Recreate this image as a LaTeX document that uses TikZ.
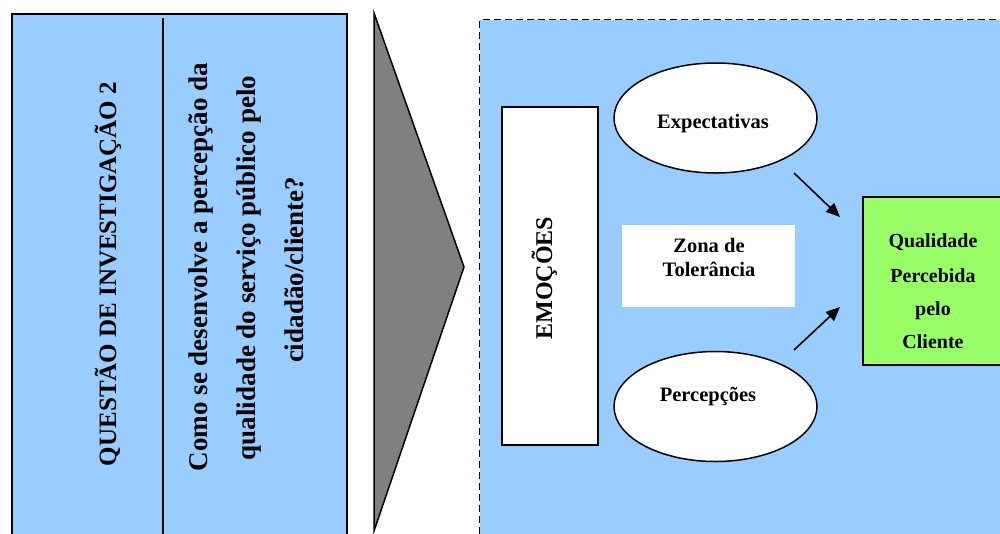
\documentclass[tikz,border=0pt]{standalone}
\usepackage{fontspec}
\setmainfont{Liberation Serif}
\usetikzlibrary{shapes.geometric,arrows.meta}
\definecolor{skyfill}{HTML}{99CCFF}
\definecolor{limefill}{HTML}{99FF66}
\definecolor{chevgray}{HTML}{808080}
\begin{document}
\begin{tikzpicture}[x=1pt,y=-1pt,
  outline/.style={draw=black,line width=1.5pt},
  panel/.style={outline,inner sep=0pt,anchor=north west},
  oval/.style={ellipse,outline,fill=white,inner sep=0pt,minimum width=203pt,minimum height=110pt},
  bigtxt/.style={font=\bfseries\fontsize{27}{32}\selectfont,inner sep=0pt,anchor=base},
  titletxt/.style={font=\bfseries\fontsize{25}{30}\selectfont,inner sep=0pt,anchor=base},
  midtxt/.style={font=\bfseries\fontsize{20.5}{24}\selectfont,inner sep=0pt,anchor=base},
  qualtxt/.style={font=\bfseries\fontsize{20}{24}\selectfont,inner sep=0pt,anchor=base},
  flow/.style={line width=1.6pt,-{Triangle[length=14pt,width=12pt]}}]

\clip (0,0) rectangle (1000,533);
\fill[white] (0,0) rectangle (1000,533);

% research question panel
\node[panel,fill=skyfill,minimum width=335pt,minimum height=540pt] (qbox) at (11,13) {};
\draw[line width=1.5pt] (163,18) -- (163,560);
\node[titletxt,rotate=90] (qtitle) at (116,274) {QUESTÃO DE INVESTIGAÇÃO 2};
\node[bigtxt,rotate=90] (qline1) at (207,267) {Como se desenvolve a percepção da};
\node[bigtxt,rotate=90] (qline2) at (255,268) {qualidade do serviço público pelo};
\node[bigtxt,rotate=90] (qline3) at (303,270) {cidadão/cliente?};

% grey chevron
\coordinate (chtop) at (374,13);
\coordinate (chtip) at (464,267);
\coordinate (chbot) at (374,531);
\draw[outline,fill=chevgray,line join=miter] (chtop) -- (chtip) -- (chbot) -- cycle;

% dashed model area
\node[panel,fill=skyfill,line width=1.3pt,dash pattern=on 7pt off 4pt,minimum width=560pt,minimum height=540pt] (model) at (479,19) {};

% emotions bar
\node[outline,fill=white,inner sep=0pt,minimum width=96pt,minimum height=338pt] (emo) at (550,276) {};
\node[font=\bfseries\fontsize{24}{28}\selectfont,inner sep=0pt,anchor=base,rotate=90] (emotxt) at (552,278) {EMOÇÕES};

% expectations and perceptions
\node[oval] (expect) at (715.5,118) {};
\node[midtxt] (expecttxt) at (713,128) {Expectativas};
\node[oval] (percep) at (715.5,406.5) {};
\node[midtxt] (perceptxt) at (708,401) {Percepções};

% tolerance zone
\node[fill=white,inner sep=0pt,minimum width=173pt,minimum height=82pt] (zona) at (708.5,266) {};
\node[midtxt] (zona1) at (709,252) {Zona de};
\node[midtxt] (zona2) at (709,276) {Tolerância};

% perceived quality
\node[panel,fill=limefill,minimum width=141pt,minimum height=168pt] (qual) at (862,196) {};
\node[qualtxt] (qual1) at (933,247) {Qualidade};
\node[qualtxt] (qual2) at (933,282) {Percebida};
\node[qualtxt] (qual3) at (933,315) {pelo};
\node[qualtxt] (qual4) at (933,348) {Cliente};

% arrows into perceived quality
\coordinate (expout) at (794,173);
\coordinate (expin) at (840,217);
\coordinate (perout) at (794,350);
\coordinate (perin) at (840,307);
\draw[flow] (expout) -- (expin);
\draw[flow] (perout) -- (perin);
\end{tikzpicture}
\end{document}
